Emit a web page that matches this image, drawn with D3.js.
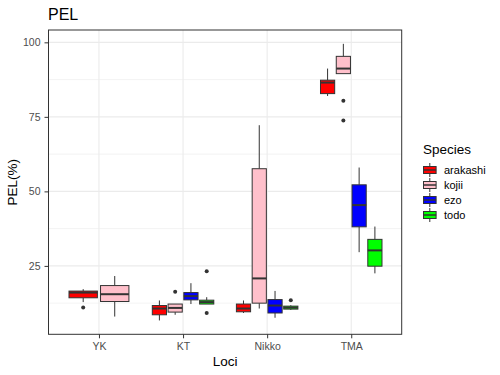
<!DOCTYPE html>
<html>
<head>
<meta charset="utf-8">
<script src="https://cdn.jsdelivr.net/npm/d3@7"></script>
<style>
  body { margin: 0; background: #fff; }
  text { font-family: "Liberation Sans", Arial, sans-serif; }
</style>
</head>
<body>
<svg id="chart" width="500" height="375"></svg>
<script>
// categories
const loci = ["YK", "KT", "Nikko", "TMA"];
const species = ["arakashi", "kojii", "ezo", "todo"];
const speciesColors = ["#FF0000", "#FFC0CB", "#0000FF", "#00FF00"];
const yTicks = [25, 50, 75, 100];

// box stats per locus: [whisker low, q1, median, q3, whisker high], null = no data
const arakashi = [[12.85, 14.3, 16.05, 16.55, 17.2], [6.7, 8.6, 10.7, 11.7, 13.4], [9.2, 9.6, 10.7, 12.2, 13.4], [82.0, 82.8, 86.5, 87.3, 91.2]];
const kojii = [[8.0, 13.05, 15.5, 18.4, 21.6], [8.6, 9.5, 10.9, 12.2, 12.2], [10.7, 12.5, 20.8, 57.6, 72.2], [89.5, 89.5, 91.2, 95.3, 99.5]];
const ezo = [null, [12.2, 13.6, 14.85, 16.05, 19.2], [7.6, 9.2, 11.7, 13.7, 16.6], [29.6, 38.1, 45.4, 52.2, 58.0]];
const todo = [null, [12.2, 12.2, 12.85, 13.5, 14.5], [10.2, 10.5, 11.0, 11.5, 11.8], [22.5, 24.9, 30.2, 33.9, 38.2]];

// outliers per locus
const arakashiOut = [[11.0], [], [], []];
const kojiiOut = [[], [16.3], [], [80.4, 73.8]];
const ezoOut = [[], [], [], []];
const todoOut = [[], [23.2, 9.2], [13.5], []];

const stats = [arakashi, kojii, ezo, todo];
const outs = [arakashiOut, kojiiOut, ezoOut, todoOut];

const svg = d3.select("#chart");
const panel = { left: 48.5, right: 401.7, top: 30, bottom: 334.3 };

const x = d3.scalePoint().domain(loci).range([panel.left, panel.right]).padding(0.6);
const y = d3.scaleLinear().domain([2.05, 104.14]).range([panel.bottom, panel.top]);
const color = d3.scaleOrdinal().domain(species).range(speciesColors);

svg.append("rect").attr("width", 500).attr("height", 375).attr("fill", "white");

// grid
const minor = [12.5, 37.5, 62.5, 87.5];
svg.selectAll("line.minor").data(minor).join("line")
  .attr("class", "minor")
  .attr("x1", panel.left).attr("x2", panel.right)
  .attr("y1", d => y(d)).attr("y2", d => y(d))
  .attr("stroke", "#ebebeb").attr("stroke-width", 0.6);
svg.selectAll("line.gy").data(yTicks).join("line")
  .attr("class", "gy")
  .attr("x1", panel.left).attr("x2", panel.right)
  .attr("y1", d => y(d)).attr("y2", d => y(d))
  .attr("stroke", "#ebebeb").attr("stroke-width", 1.1);
svg.selectAll("line.gx").data(loci).join("line")
  .attr("class", "gx")
  .attr("y1", panel.top).attr("y2", panel.bottom)
  .attr("x1", d => x(d)).attr("x2", d => x(d))
  .attr("stroke", "#ebebeb").attr("stroke-width", 1.1);

// boxes
const dodgeWidth = 0.75 * x.step();
const g = svg.append("g");
loci.forEach((locus, li) => {
  const present = species.map((s, si) => si).filter(si => stats[si][li]);
  const n = present.length;
  const slot = dodgeWidth / n;
  present.forEach((si, k) => {
    const d = stats[si][li];
    const cx = x(locus) - dodgeWidth / 2 + slot * (k + 0.5);
    const bw = slot * 0.9;
    const grp = g.append("g");
    grp.append("line")
      .attr("x1", cx).attr("x2", cx).attr("y1", y(d[4])).attr("y2", y(d[3]))
      .attr("stroke", "#333333").attr("stroke-width", 1);
    grp.append("line")
      .attr("x1", cx).attr("x2", cx).attr("y1", y(d[1])).attr("y2", y(d[0]))
      .attr("stroke", "#333333").attr("stroke-width", 1);
    grp.append("rect")
      .attr("x", cx - bw / 2).attr("width", bw)
      .attr("y", y(d[3])).attr("height", Math.max(0.5, y(d[1]) - y(d[3])))
      .attr("fill", color(species[si]))
      .attr("stroke", "#333333").attr("stroke-width", 1);
    grp.append("line")
      .attr("x1", cx - bw / 2).attr("x2", cx + bw / 2)
      .attr("y1", y(d[2])).attr("y2", y(d[2]))
      .attr("stroke", "#333333").attr("stroke-width", 2);
    grp.selectAll("circle").data(outs[si][li]).join("circle")
      .attr("cx", cx).attr("cy", v => y(v)).attr("r", 2)
      .attr("fill", "#333333");
  });
});

// panel border
svg.append("rect")
  .attr("x", panel.left).attr("y", panel.top)
  .attr("width", panel.right - panel.left).attr("height", panel.bottom - panel.top)
  .attr("fill", "none").attr("stroke", "#333333").attr("stroke-width", 1);

// axes
const yAxis = svg.append("g")
  .attr("transform", `translate(${panel.left},0)`)
  .call(d3.axisLeft(y).tickValues(yTicks).tickSize(4).tickPadding(4));
const xAxis = svg.append("g")
  .attr("transform", `translate(0,${panel.bottom})`)
  .call(d3.axisBottom(x).tickSize(4).tickPadding(4));
[yAxis, xAxis].forEach(a => {
  a.select(".domain").remove();
  a.selectAll(".tick line").attr("stroke", "#333333");
  a.selectAll(".tick text")
    .attr("fill", "#4d4d4d")
    .style("font-size", "10.5px")
    .style("font-family", "'Liberation Sans', Arial, sans-serif");
});

// titles
svg.append("text").attr("x", 48).attr("y", 19.5)
  .style("font-size", "16px").attr("fill", "black").text("PEL");
svg.append("text").attr("x", (panel.left + panel.right) / 2).attr("y", 365.5)
  .attr("text-anchor", "middle").style("font-size", "13.5px").attr("fill", "black").text("Loci");
svg.append("text")
  .attr("transform", `translate(16.5,${(panel.top + panel.bottom) / 2}) rotate(-90)`)
  .attr("text-anchor", "middle").style("font-size", "13.5px").attr("fill", "black").text("PEL(%)");

// legend
const legend = svg.append("g").attr("transform", "translate(423,0)");
legend.append("text").attr("x", 0).attr("y", 154)
  .style("font-size", "13.5px").attr("fill", "black").text("Species");
const rowY = d3.scalePoint().domain(species).range([170, 215]);
species.forEach(s => {
  const cy = rowY(s);
  legend.append("line").attr("x1", 6.8).attr("x2", 6.8).attr("y1", cy - 7).attr("y2", cy + 7)
    .attr("stroke", "#333333").attr("stroke-width", 1);
  legend.append("rect").attr("x", 0.5).attr("y", cy - 3.5).attr("width", 12.6).attr("height", 7)
    .attr("fill", color(s)).attr("stroke", "#333333").attr("stroke-width", 1);
  legend.append("line").attr("x1", 0.5).attr("x2", 13.1).attr("y1", cy).attr("y2", cy)
    .attr("stroke", "#333333").attr("stroke-width", 1.5);
  legend.append("text").attr("x", 21).attr("y", cy + 4)
    .style("font-size", "11px").attr("fill", "black").text(s);
});
</script>
</body>
</html>
